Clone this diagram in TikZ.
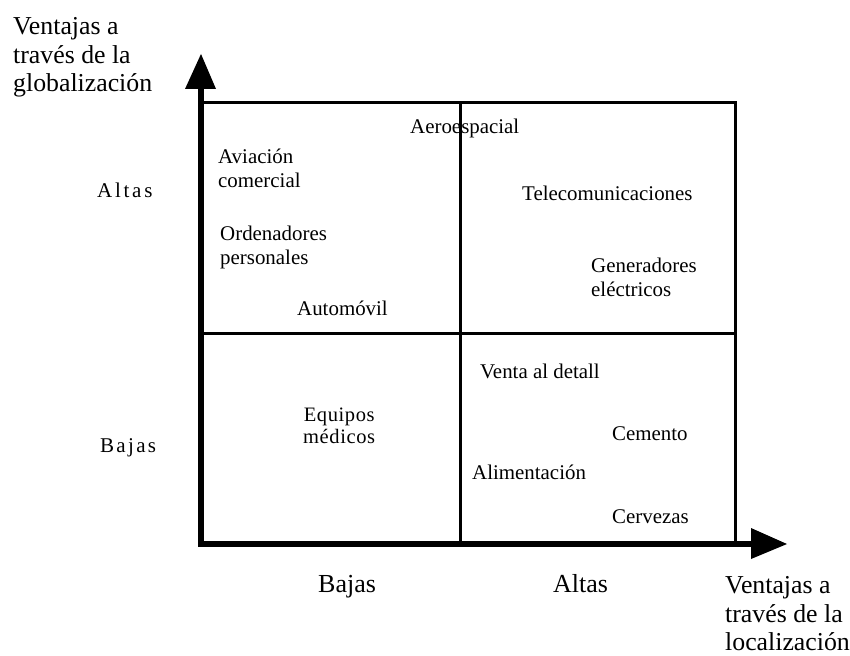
\documentclass[tikz,border=0pt]{standalone}
\usepackage{fontspec}
\setmainfont{Liberation Serif}
\begin{document}
\begin{tikzpicture}[x=1pt,y=-1pt,
  axistitle/.style={font=\fontsize{25.8}{28.5}\selectfont, align=left, anchor=base west, inner sep=0pt},
  levellabel/.style={font=\fontsize{26}{28}\selectfont, anchor=base west, inner sep=0pt},
  sidelabel/.style={font=\fontsize{21}{24}\selectfont\addfontfeature{LetterSpace=13}, anchor=base west, inner sep=0pt},
  sector/.style={font=\fontsize{20.9}{24}\selectfont, align=left, anchor=base west, inner sep=0pt},
  gridline/.style={line width=3pt},
  axisline/.style={line width=6pt},
  tip/.style={fill=black, draw=none}]
\useasboundingbox (0,0) rectangle (850,655);

% corners of the grid
\coordinate (o)  at (201,544);
\coordinate (tl) at (201,102.5);
\coordinate (tr) at (735,102.5);
\coordinate (br) at (735,544);
\coordinate (mt) at (460.5,102.5);
\coordinate (mb) at (460.5,544);
\coordinate (ml) at (201,333);
\coordinate (mr) at (735,333);
\coordinate (ytop) at (201,89);
\coordinate (xend) at (751,544);

% quadrant lines
\draw[gridline] (tl) -- (tr) -- (br);
\draw[gridline] (mt) -- (mb);
\draw[gridline] (ml) -- (mr);

% axes with solid triangular heads
\draw[axisline] (o) -- (ytop);
\draw[axisline] ([xshift=-3pt]o) -- (xend);
\fill[tip] (201,54) -- (216,89) -- (185,89) -- cycle;
\fill[tip] (787,544) -- (751,559) -- (751,528) -- cycle;

% axis titles (placed by the baseline of their last line)
\node[axistitle] (ytitle) at (13,92) {Ventajas a\\través de la\\globalización};
\node[axistitle] (xtitle) at (725,650.5) {Ventajas a\\través de la\\localización};

% level labels
\node[sidelabel] (yhigh) at (97,197) {Altas};
\node[sidelabel, font=\fontsize{21}{24}\selectfont\addfontfeature{LetterSpace=11}] (ylow) at (100,452) {Bajas};
\node[levellabel] (xlow) at (318,592) {Bajas};
\node[levellabel] (xhigh) at (553,592) {Altas};

% industries
\node[sector] (aero) at (410,134) {Aeroespacial};
\node[sector] (aviac) at (218,187) {Aviación\\comercial};
\node[sector] (orden) at (220,264) {Ordenadores\\personales};
\node[sector] (auto) at (297,315) {Automóvil};
\node[sector] (tele) at (522,200) {Telecomunicaciones};
\node[sector] (gener) at (591,296) {Generadores\\eléctricos};
\node[sector] (venta) at (480,378) {Venta al detall};
\node[sector] (cemen) at (612,440) {Cemento};
\node[sector] (alim) at (472,479) {Alimentación};
\node[sector] (cerv) at (612,523) {Cervezas};
\node[sector, align=center, font=\fontsize{20.5}{21.5}\selectfont\addfontfeature{LetterSpace=3}] (equip) at (303,443) {Equipos\\médicos};
\end{tikzpicture}
\end{document}
